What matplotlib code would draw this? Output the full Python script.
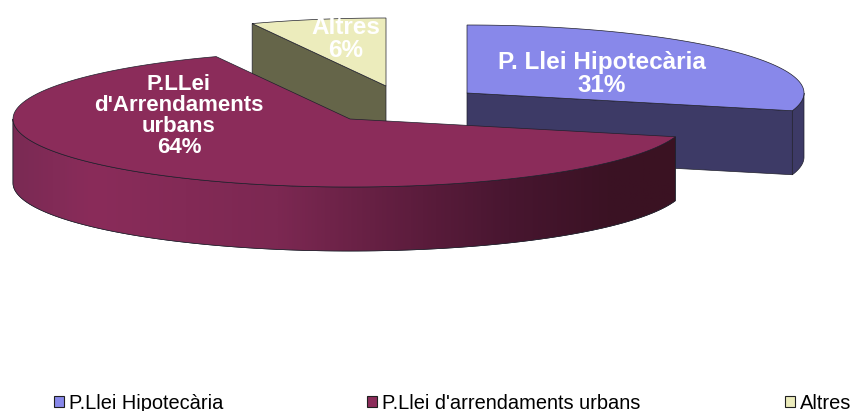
import matplotlib
matplotlib.use('Agg')
import matplotlib.pyplot as plt
import numpy as np
from matplotlib.colors import LinearSegmentedColormap
from matplotlib.patches import Patch

plt.rcParams['font.family'] = ['Liberation Sans', 'DejaVu Sans']

legend_names = ['P.Llei Hipotecària', "P.Llei d'arrendaments urbans", 'Altres']
slice_labels = ['P. Llei Hipotecària\n31%', "P.LLei\nd'Arrendaments\nurbans\n64%", 'Altres\n6%']
# share of each sector as measured on the drawing, clockwise from 12 o'clock
shares = [29.2, 64.3, 6.5]

top_colors = ['#8888ea', '#8b2c5a', '#ececbc']
cut_colors = ['#3d3a66', '#3b1224', '#656549']
centers = [(467, 93), (350, 119), (386, 86)]
label_pos = [(602, 74), (179, 116), (346, 39)]
label_sizes = [17.5, 16, 17.5]
RX, RY, DEPTH = 337, 68, 64
EDGE = '#20202c'

fig = plt.figure(figsize=(8.5, 4.11), dpi=100)
ax = fig.add_axes([0, 0, 1, 1])
ax.set_xlim(0, 850)
ax.set_ylim(411, 0)
ax.axis('off')

# start/end angles, going clockwise from 90 deg
ends = 90 - np.cumsum(np.array(shares) * 3.6)
starts = np.r_[90, ends[:-1]]


def arc(c, t0, t1, dy=0):
    t = np.radians(np.linspace(t0, t1, 120))
    return np.c_[c[0] + RX * np.cos(t), c[1] + dy - RY * np.sin(t)]


def top(i, z):
    pts = np.vstack([[centers[i]], arc(centers[i], starts[i], ends[i])])
    ax.fill(pts[:, 0], pts[:, 1], fc=top_colors[i], ec=EDGE, lw=0.5, zorder=z)


def cut(c, t, color, z):
    p = arc(c, t, t)[0]
    xs = [c[0], p[0], p[0], c[0]]
    ys = [c[1], p[1], p[1] + DEPTH, c[1] + DEPTH]
    ax.fill(xs, ys, fc=color, ec=EDGE, lw=0.5, zorder=z)


def wall(c, t0, t1, color, z):
    up = arc(c, t0, t1)
    down = arc(c, t1, t0, DEPTH)
    pts = np.vstack([up, down])
    return ax.fill(pts[:, 0], pts[:, 1], fc=color, ec=EDGE, lw=0.5, zorder=z)[0]


# Altres, at the back
cut(centers[2], starts[2], cut_colors[2], 1)
top(2, 2)

# Hipotecaria
cut(centers[0], ends[0], cut_colors[0], 3)
wall(centers[0], ends[0], 0, cut_colors[0], 3)
top(0, 4)

# arrendaments, side is shaded left to right
side = wall(centers[1], 180, 360 + starts[1], 'none', 5)
cmap = LinearSegmentedColormap.from_list('side', [
    (0.0, '#7a2a54'), (0.12, '#8a2c5a'), (0.4, '#7c2852'),
    (0.62, '#5b1c3c'), (0.75, '#481630'), (0.9, '#3b1224'), (1.0, '#3a1222')])
im = ax.imshow(np.linspace(0, 1, 400).reshape(1, -1), cmap=cmap, aspect='auto',
               extent=(12, 675, 260, 100), zorder=5)
im.set_clip_path(side)
ax.set_xlim(0, 850)
ax.set_ylim(411, 0)
wall(centers[1], 180, 360 + starts[1], 'none', 6)
top(1, 7)

for name, (x, y), size in zip(slice_labels, label_pos, label_sizes):
    ax.text(x, y, name, color='white', fontsize=size, fontweight='bold',
            ha='center', va='center', linespacing=1.0, zorder=8)

handles = [Patch(fc=c, ec='#202020', lw=0.8) for c in top_colors]
ax.legend(handles, legend_names, ncol=3, frameon=False, fontsize=14.4,
          loc='lower left', bbox_to_anchor=(54 / 850, -0.004), borderpad=0, borderaxespad=0,
          handlelength=0.5, handleheight=0.5, handletextpad=0.25, columnspacing=7.2)

fig.savefig('out.png', dpi=100)
